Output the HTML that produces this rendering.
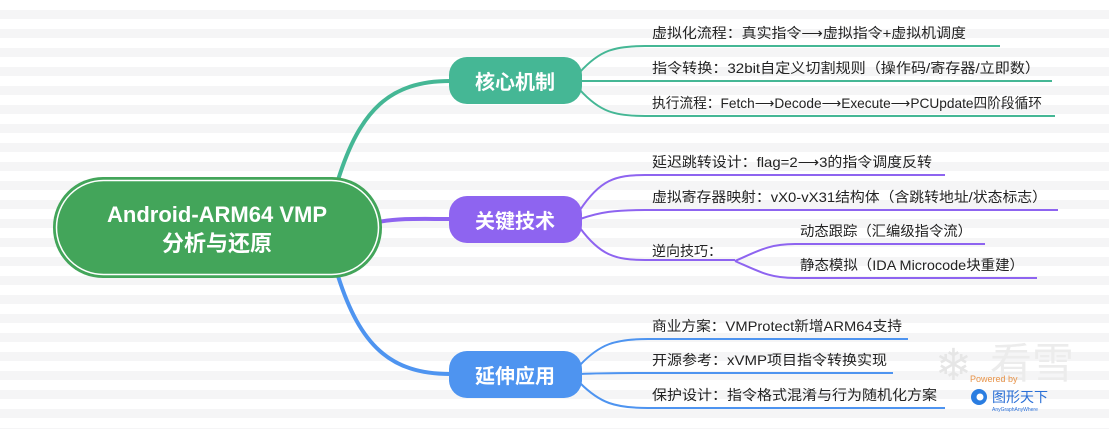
<!DOCTYPE html>
<html><head><meta charset="utf-8"><style>
html,body{margin:0;padding:0;}
body{width:1109px;height:429px;overflow:hidden;background:repeating-linear-gradient(180deg,#ffffff 0px,#ffffff 10px,#f5f5f6 10px,#f5f5f6 19px);}
svg{position:absolute;left:0;top:0}
text{font-family:"Liberation Sans","Noto Sans CJK SC",sans-serif;}
</style></head><body>
<svg width="1109" height="429" viewBox="0 0 1109 429">
<path d="M338 180 C360 110 390 81 450 81" stroke="#45b795" stroke-width="4" fill="none"/>
<path d="M378 222 C400 218 420 219 450 219" stroke="#8e64f0" stroke-width="4" fill="none"/>
<path d="M338 276 C360 345 390 374 450 374" stroke="#4e94f0" stroke-width="4" fill="none"/>
<g stroke="#45b795" stroke-width="2" fill="none">
<path d="M580 72 C600 50 615 46 645 46 L1000 46"/>
<path d="M580 81 L1052 81"/>
<path d="M580 90 C600 112 615 116 645 116 L1055 116"/>
</g>
<g stroke="#8e64f0" stroke-width="2" fill="none">
<path d="M580 210 C600 180 615 175 645 175 L945 175"/>
<path d="M580 219 C600 212 615 210 645 210 L1058 210"/>
<path d="M580 228 C600 255 615 260 645 260 L735 260"/>
<path d="M735 261 C760 250 770 244 795 244 L985 244"/>
<path d="M735 261 C760 272 770 278 795 278 L1037 278"/>
</g>
<g stroke="#4e94f0" stroke-width="2" fill="none">
<path d="M580 365 C600 344 615 339 648 339 L908 339"/>
<path d="M580 374 C600 373 615 373 648 373 L893 373"/>
<path d="M580 383 C600 403 615 408 648 408 L945 408"/>
</g>
<rect x="53" y="177" width="329" height="101" rx="50" fill="#43a55a"/>
<rect x="56.5" y="180.5" width="322" height="94" rx="47" fill="none" stroke="#fff" stroke-width="1.5"/>
<text x="217" y="222" font-size="22" font-weight="bold" fill="#fff" text-anchor="middle">Android-ARM64 VMP</text>
<text x="217" y="251" font-size="22" font-weight="bold" fill="#fff" text-anchor="middle">分析与还原</text>
<rect x="449" y="57" width="133" height="47" rx="18" fill="#45b795"/>
<text x="515" y="89" font-size="20" font-weight="bold" fill="#fff" text-anchor="middle">核心机制</text>
<rect x="449" y="196" width="133" height="47" rx="18" fill="#8e64f0"/>
<text x="515" y="228" font-size="20" font-weight="bold" fill="#fff" text-anchor="middle">关键技术</text>
<rect x="449" y="351" width="133" height="47" rx="18" fill="#4e94f0"/>
<text x="515" y="383" font-size="20" font-weight="bold" fill="#fff" text-anchor="middle">延伸应用</text>
<g font-size="14" fill="#222">
<text x="652" y="38" textLength="314" lengthAdjust="spacingAndGlyphs">虚拟化流程：真实指令⟶虚拟指令+虚拟机调度</text>
<text x="652" y="73" textLength="388" lengthAdjust="spacingAndGlyphs">指令转换：32bit自定义切割规则（操作码/寄存器/立即数）</text>
<text x="652" y="108" textLength="390" lengthAdjust="spacingAndGlyphs">执行流程：Fetch⟶Decode⟶Execute⟶PCUpdate四阶段循环</text>
<text x="652" y="167" textLength="280" lengthAdjust="spacingAndGlyphs">延迟跳转设计：flag=2⟶3的指令调度反转</text>
<text x="652" y="202" textLength="395" lengthAdjust="spacingAndGlyphs">虚拟寄存器映射：vX0-vX31结构体（含跳转地址/状态标志）</text>
<text x="652" y="256">逆向技巧：</text>
<text x="800" y="236" textLength="172" lengthAdjust="spacingAndGlyphs">动态跟踪（汇编级指令流）</text>
<text x="800" y="270" textLength="224" lengthAdjust="spacingAndGlyphs">静态模拟（IDA Microcode块重建）</text>
<text x="652" y="331" textLength="250" lengthAdjust="spacingAndGlyphs">商业方案：VMProtect新增ARM64支持</text>
<text x="652" y="365" textLength="235" lengthAdjust="spacingAndGlyphs">开源参考：xVMP项目指令转换实现</text>
<text x="652" y="400" textLength="285" lengthAdjust="spacingAndGlyphs">保护设计：指令格式混淆与行为随机化方案</text>
</g>
<text x="935" y="380" font-size="44" fill="#e6e6e6">❄</text>
<text x="990" y="378" font-size="42" fill="#ececec">看雪</text>
<text x="970" y="382" font-size="9" fill="#e8944a">Powered by</text>
<circle cx="979" cy="397" r="8" fill="#2a7de1"/>
<circle cx="980" cy="397" r="3.5" fill="#fff"/>
<text x="992" y="402" font-size="14" fill="#2a6fd6">图形天下</text>
<text x="992" y="411" font-size="5" fill="#2a6fd6">AnyGraphAnyWhere</text>
</svg>
</body></html>
